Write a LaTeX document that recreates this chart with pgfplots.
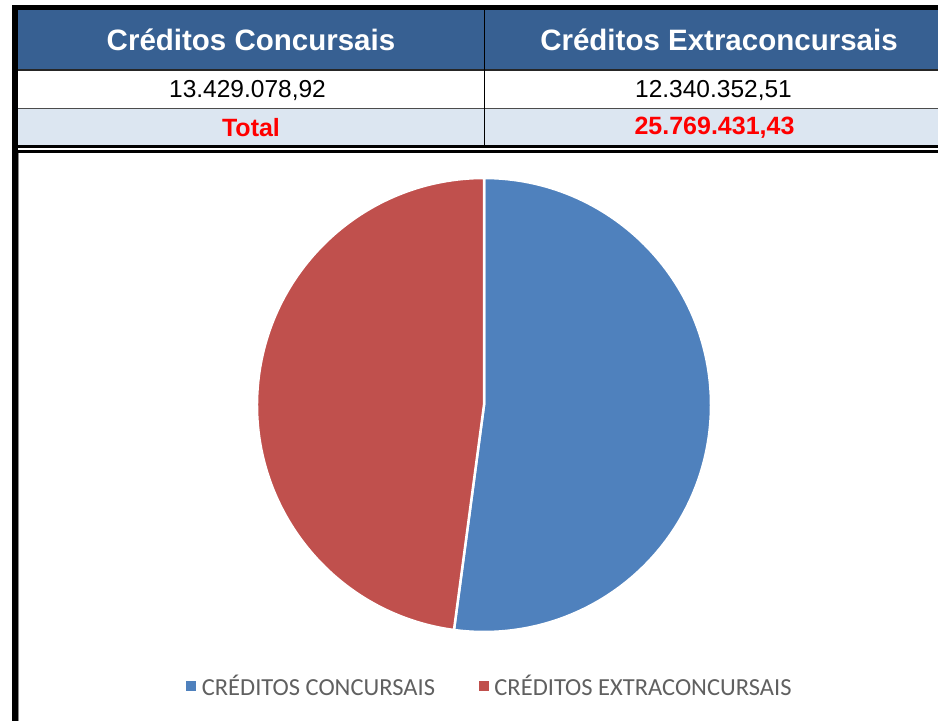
\documentclass[border=0pt]{standalone}
\usepackage{pgfplots}
\usepackage{pgfplotstable}
\pgfplotsset{compat=1.18}
\usepackage{fontspec}
\setmainfont{Liberation Sans}
\newfontfamily\calibri{Carlito}
\definecolor{hdrblue}{HTML}{376092}
\definecolor{lightrow}{HTML}{DCE6F1}
\definecolor{pieblue}{HTML}{4F81BD}
\definecolor{piered}{HTML}{C0504D}
\definecolor{legtext}{HTML}{606060}
% values in millions
\pgfplotstableread{
name value
Concursais 13.42907892
Extraconcursais 12.34035251
}\piedata
\begin{document}
\begin{tikzpicture}
\pgfplotstablegetelem{0}{value}\of\piedata \let\va\pgfplotsretval
\pgfplotstablegetelem{1}{value}\of\piedata \let\vb\pgfplotsretval
\pgfmathsetmacro{\angA}{360*\va/(\va+\vb)}
\pgfmathsetmacro{\endA}{90-\angA}
\begin{axis}[
  name=ax,
  width=938pt, height=721pt, scale only axis,
  xmin=0, xmax=938, ymin=0, ymax=721, y dir=reverse,
  hide axis,
  legend columns=2,
  legend style={at={(axis cs:490,686)}, anchor=center, draw=none, fill=none,
    font=\calibri\fontsize{24.5}{29}\selectfont, text=legtext,
    /tikz/every even column/.append style={column sep=42pt},
    legend cell align=left},
]
% table
\fill[hdrblue] (axis cs:17,10) rectangle (axis cs:938,69);
\fill[white] (axis cs:17,70) rectangle (axis cs:938,108);
\fill[lightrow] (axis cs:17,109) rectangle (axis cs:938,145);
\fill[black!85] (axis cs:17,69) rectangle (axis cs:938,70.5);
\fill[black!70] (axis cs:17,107.7) rectangle (axis cs:938,109);
\fill[black] (axis cs:483.5,10) rectangle (axis cs:485,145);
\fill[black] (axis cs:12,5) rectangle (axis cs:938,10);
\fill[black] (axis cs:12,145) rectangle (axis cs:938,148.3);
\fill[black] (axis cs:12,150) rectangle (axis cs:938,152.5);
\fill[black] (axis cs:12,5) rectangle (axis cs:17.5,721);
\fill[black!45] (axis cs:17.5,152.5) rectangle (axis cs:18.5,721);
\node[text=white, font=\fontsize{29.5}{34}\selectfont\bfseries] at (axis cs:251,40) {Créditos Concursais};
\node[text=white, font=\fontsize{29.5}{34}\selectfont\bfseries] at (axis cs:719,40) {Créditos Extraconcursais};
\node[font=\fontsize{24.5}{28}\selectfont] at (axis cs:247.5,91) {13.429.078,92};
\node[font=\fontsize{24.5}{28}\selectfont] at (axis cs:713.5,91) {12.340.352,51};
\node[text=red, font=\fontsize{25}{28}\selectfont\bfseries] at (axis cs:251,128) {Total};
\node[text=red, font=\fontsize{25}{28}\selectfont\bfseries] at (axis cs:714.5,128) {25.769.431,43};
% pie
\filldraw[fill=pieblue, draw=white, line width=2.5pt, line join=round]
  (axis cs:484,405) -- (axis cs:484,178) arc[start angle=90, end angle=\endA, radius=227pt] -- cycle;
\filldraw[fill=piered, draw=white, line width=2.5pt, line join=round]
  (axis cs:484,405) -- ++(\endA:227pt) arc[start angle=\endA, end angle=-270, radius=227pt] -- cycle;
\addlegendimage{legend image code/.code={\fill[pieblue] (0pt,-4.5pt) rectangle (8.5pt,4.5pt); \path (13pt,0pt);}}
\addlegendentry{CRÉDITOS CONCURSAIS}
\addlegendimage{legend image code/.code={\fill[piered] (0pt,-4.5pt) rectangle (8.5pt,4.5pt); \path (13pt,0pt);}}
\addlegendentry{CRÉDITOS EXTRACONCURSAIS}
\end{axis}
\pgfresetboundingbox
\useasboundingbox (ax.south west) rectangle (ax.north east);
\end{tikzpicture}
\end{document}
